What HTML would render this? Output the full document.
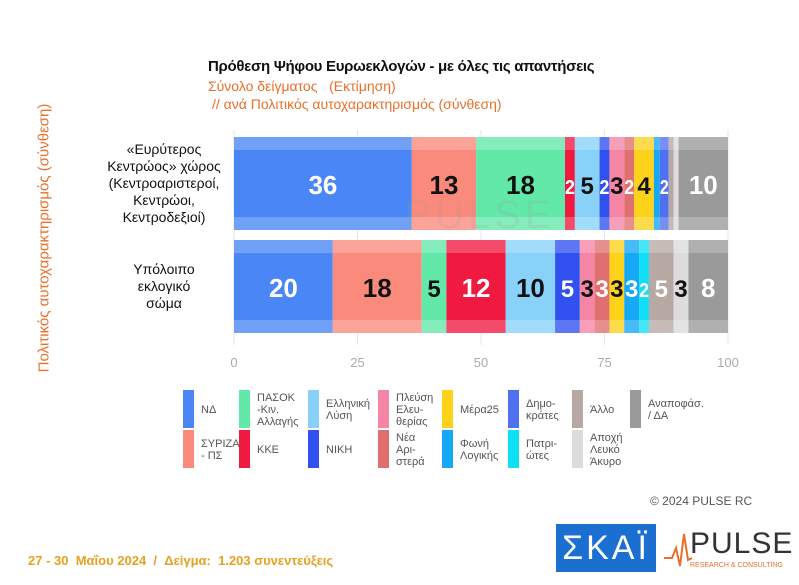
<!DOCTYPE html>
<html><head><meta charset="utf-8"><style>
body{margin:0;width:799px;height:585px;background:#fff;font-family:"Liberation Sans",sans-serif;position:relative;overflow:hidden}
.a{position:absolute}
</style></head><body>
<div class="a" style="left:208px;top:58px;font-size:15px;font-weight:bold;color:#111;letter-spacing:-0.3px">Πρόθεση Ψήφου Ευρωεκλογών - με όλες τις απαντήσεις</div>
<div class="a" style="left:208px;top:78px;font-size:14px;color:#e8702a">Σύνολο δείγματος &nbsp;&nbsp;(Εκτίμηση)</div>
<div class="a" style="left:212px;top:96px;font-size:14px;color:#e8702a">// ανά Πολιτικός αυτοχαρακτηρισμός (σύνθεση)</div>
<div class="a" style="left:44px;top:238px;width:0;height:0"><div style="transform:translate(-50%,-50%) rotate(-90deg);white-space:nowrap;font-size:15px;color:#e8702a;position:absolute">Πολιτικός αυτοχαρακτηρισμός (σύνθεση)</div></div>
<svg class="a" style="left:0;top:0" width="799" height="585" id="chart"></svg>
<div class="a" style="left:650px;top:494px;font-size:12px;color:#555">© 2024 PULSE RC</div>
<div class="a" style="left:28px;top:553px;font-size:13px;font-weight:bold;color:#e8a020">27 - 30 &nbsp;Μαΐου 2024 &nbsp;/ &nbsp;Δείγμα: &nbsp;1.203 συνεντεύξεις</div>
<div class="a" style="left:556px;top:524px;width:100px;height:48px;background:#1a6fd0;color:#fff;font-size:34px;text-align:center;line-height:48px;letter-spacing:3px">ΣΚΑΪ</div>
<div class="a" style="left:690px;top:527px;font-size:30px;color:#333;letter-spacing:1px">PULSE</div>
<div class="a" style="left:690px;top:562px;font-size:7px;color:#e8702a">RESEARCH &amp; CONSULTING</div>
<svg class="a" style="left:664px;top:530px" width="28" height="40"><polyline points="0,28 8,28 12,18 16,36 20,4 24,30 28,28" fill="none" stroke="#e8702a" stroke-width="2"/></svg>
<script>
const parties=["ΝΔ","ΣΥΡΙΖΑ - ΠΣ","ΠΑΣΟΚ -Κιν. Αλλαγής","ΚΚΕ","Ελληνική Λύση","ΝΙΚΗ","Πλεύση Ελευθερίας","Νέα Αριστερά","Μέρα25","Φωνή Λογικής","Δημοκράτες","Πατριώτες","Άλλο","Αποχή Λευκό Άκυρο","Αναποφάσ. / ΔΑ"];
const row1=[36,13,18,2,5,2,3,2,4,1.2,1.8,0,1,1,10];
const row2=[20,18,5,12,10,5,3,3,3,3,0,2,5,3,8];
const ticks=[0,25,50,75,100];
const colors=["#4a86f5","#fa8a7c","#62e8a8","#f0193f","#88d2fa","#3050f0","#f585a5","#e07070","#fcd21a","#14a8f5","#5070f0","#10e0f5","#b8a8a4","#dcdcdc","#9a9a9a"];
const labelColors=["#fff","#111","#111","#fff","#111","#fff","#111","#fff","#111","#fff","#fff","#fff","#fff","#111","#fff"];
const NS="http://www.w3.org/2000/svg",svg=document.getElementById("chart");
const x=v=>234+v*4.94;
function mk(t,a,p){const e=document.createElementNS(NS,t);for(const k in a)if(a[k]!==null)e.setAttribute(k,a[k]);(p||svg).appendChild(e);return e;}
ticks.forEach(t=>{
 const g=mk("line",{x1:x(t),x2:x(t),y1:130,y2:345,stroke:"#e6e6e6"});
 
 
 const tx=mk("text",{x:x(t),y:367,"text-anchor":"middle","font-size":13,fill:"#aaa"});tx.textContent=t;
 
 
});
[[row1,137],[row2,240]].forEach(([row,y0],ri)=>{
 let c=0;
 row.forEach((v,i)=>{
  if(v<=0)return;
  const r=mk("rect",{x:x(c),y:y0,width:v*4.94,height:93,fill:colors[i]});
  
  
  const hi=mk("rect",{x:x(c),y:y0,width:v*4.94,height:13,fill:"#fff","fill-opacity":0.22});
  
  
  const lo=mk("rect",{x:x(c),y:y0+80,width:v*4.94,height:13,fill:"#fff","fill-opacity":0.22});
  
  
  if(v>=1.5){
   const fs=v>=8?26:(v>=3?24:20);
   const t=mk("text",{x:x(c+v/2),y:y0+57,"text-anchor":"middle","font-size":fs,"font-weight":"bold",fill:labelColors[i]});
   if(v<3){t.setAttribute("textLength",v*4.94);t.setAttribute("lengthAdjust","spacingAndGlyphs");}
   t.textContent=Math.round(v);
   
   
  }
  c+=v;
 });
});
const cats=[["«Ευρύτερος","Κεντρώος» χώρος","(Κεντροαριστεροί,","Κεντρώοι,","Κεντροδεξιοί)"],["Υπόλοιπο","εκλογικό","σώμα"]];
[[cats[0],183],[cats[1],286]].forEach(([lines,cy])=>{
 lines.forEach((l,j)=>{
  const t=mk("text",{x:164,y:cy+(j-(lines.length-1)/2)*17+5,"text-anchor":"middle","font-size":14,fill:"#111"});t.textContent=l;
  
  
 });
});
const wm=mk("text",{x:480,y:228,"text-anchor":"middle","font-size":40,fill:"#999","fill-opacity":0.18,"letter-spacing":4});wm.textContent="PULSE";


const lx=[183,239,308,378,442,508,572,630];
const order=[[0,1],[2,3],[4,5],[6,7],[8,9],[10,11],[12,13],[14]];
const lt=[["ΝΔ"],["ΣΥΡΙΖΑ","- ΠΣ"],["ΠΑΣΟΚ","-Κιν.","Αλλαγής"],["ΚΚΕ"],["Ελληνική","Λύση"],["ΝΙΚΗ"],["Πλεύση","Ελευ-","θερίας"],["Νέα","Αρι-","στερά"],["Μέρα25"],["Φωνή","Λογικής"],["Δημο-","κράτες"],["Πατρι-","ώτες"],["Άλλο"],["Αποχή","Λευκό","Άκυρο"],["Αναποφάσ.","/ ΔΑ"]];
order.forEach((col,ci)=>col.forEach((pi,r)=>{
 const y=390+r*40;
 const s=mk("rect",{x:lx[ci],y:y,width:11,height:38,fill:colors[pi]});
 
 
 const L=lt[pi];
 L.forEach((w,j)=>{
  const t=mk("text",{x:lx[ci]+18,y:y+19+(j-(L.length-1)/2)*12+4,"font-size":11,fill:"#555"});t.textContent=w;
  
  
 });
}));
</script>
</body></html>
